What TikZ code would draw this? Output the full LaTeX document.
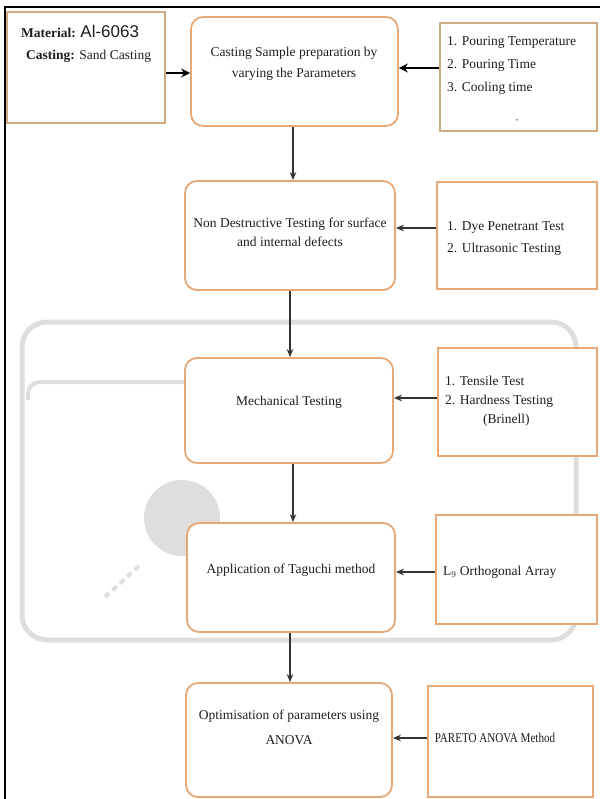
\documentclass[tikz,border=0pt]{standalone}
\usepackage{fontspec}
\setmainfont{Liberation Serif}
\newfontfamily\arialfont{Liberation Sans}
\usepackage{graphicx}
\usetikzlibrary{arrows.meta,calc}
\definecolor{boxor}{RGB}{230,168,118}
\definecolor{boxtan}{RGB}{208,170,132}
\definecolor{wm}{RGB}{222,222,222}
\definecolor{txt}{RGB}{30,30,30}
\begin{document}
\begin{tikzpicture}[x=1pt,y=-1pt,
  rbox/.style={draw=boxor,line width=1.8pt,rounded corners=12pt,fill=white,inner sep=0pt},
  sbox/.style={draw=boxor,line width=1.8pt,fill=white,inner sep=0pt},
  lbl/.style={text=txt,font=\fontsize{13.5}{19}\selectfont,inner sep=0pt},
  thickarrow/.style={draw=black,line width=2.6pt,-{Stealth[length=9pt,width=9pt]}},
  flowarrow/.style={draw=black!80,line width=1.5pt,-{Stealth[length=8pt,width=6.5pt]}}
]
\useasboundingbox (0,0) rectangle (600,799);
% frame (top and left edges)
\draw[line width=2pt] (5,799) -- (5,7) -- (600,7);
% faint watermark
\draw[wm,line width=5pt,rounded corners=25pt] (22,322) rectangle (576,640);
\draw[wm,line width=4pt,rounded corners=12pt] (28,400) -- (28,382) -- (190,382);
\fill[wm] (182,518) circle (38pt);
\draw[wm,line width=4pt,dash pattern=on 6pt off 4pt] (105,597) -- (140,565);
% boxes
\node[sbox,draw=boxtan,minimum width=158pt,minimum height=111pt] (A) at (86,67.5) {};
\node[rbox,minimum width=207pt,minimum height=109pt] (B) at (294.5,71.5) {};
\node[sbox,draw=boxtan,minimum width=157pt,minimum height=108pt] (C) at (518.5,77) {};
\node[rbox,minimum width=210pt,minimum height=109pt] (D) at (290,235.5) {};
\node[sbox,minimum width=160pt,minimum height=107pt] (E) at (517,235.5) {};
\node[rbox,minimum width=208pt,minimum height=105pt] (F) at (289,410.5) {};
\node[sbox,minimum width=159pt,minimum height=108pt] (G) at (517.5,402) {};
\node[rbox,minimum width=208pt,minimum height=109pt] (H) at (291,577.5) {};
\node[sbox,minimum width=161pt,minimum height=109pt] (I) at (516.5,569.5) {};
\node[rbox,minimum width=206pt,minimum height=114pt] (J) at (289,740) {};
\node[sbox,minimum width=165pt,minimum height=111pt] (K) at (510.5,741.5) {};
% texts
\node[lbl,anchor=west] (a1) at (21,31) {\textbf{Material:} {\arialfont\fontsize{17}{19}\selectfont Al-6063}};
\node[lbl,anchor=west] (a2) at (26,56) {\textbf{Casting:} Sand Casting};
\node[lbl,align=center,font=\fontsize{13.5}{21}\selectfont] (bt) at (294,64) {Casting Sample preparation by\\varying the Parameters};
\node[lbl,align=left,anchor=west,font=\fontsize{13.5}{23}\selectfont] (ct) at (447,65) {1. Pouring Temperature\\2. Pouring Time\\3. Cooling time};
\node[lbl,font=\fontsize{9}{10}\selectfont] (cdot) at (517,121) {-};
\node[lbl,align=center] (dt) at (290,232.5) {Non Destructive Testing for surface\\and internal defects};
\node[lbl,align=left,anchor=west,font=\fontsize{13.5}{22}\selectfont] (et) at (447,239) {1. Dye Penetrant Test\\2. Ultrasonic Testing};
\node[lbl] (ft) at (289,402) {Mechanical Testing};
\node[lbl,align=left,anchor=west] (gt) at (445,401) {1. Tensile Test\\2. Hardness Testing\\\hspace*{38pt}(Brinell)};
\node[lbl] (ht) at (291,570) {Application of Taguchi method};
\node[lbl,anchor=west] (it) at (443,572) {L$_9$ Orthogonal Array};
\node[lbl,align=center,font=\fontsize{13.5}{25}\selectfont] (jt) at (289,727.5) {Optimisation of parameters using\\ANOVA};
\node[lbl] (kt) at (495,738) {\scalebox{0.82}[1]{PARETO ANOVA Method}};
% connectors
\coordinate (yab) at (0,73);
\coordinate (ycb) at (0,68);
\coordinate (yed) at (0,228);
\coordinate (ygf) at (0,398);
\coordinate (yih) at (0,572);
\coordinate (ykj) at (0,738);
\coordinate (xa) at (293,0);
\coordinate (xb) at (290,0);
\draw[thickarrow] (A.east |- yab) -- (B.west |- yab);
\draw[thickarrow] (C.west |- ycb) -- (B.east |- ycb);
\draw[flowarrow,line width=2pt] (E.west |- yed) -- (D.east |- yed);
\draw[flowarrow,line width=2pt] (G.west |- ygf) -- (F.east |- ygf);
\draw[flowarrow,line width=2pt] (I.west |- yih) -- (H.east |- yih);
\draw[flowarrow,line width=2pt] (K.west |- ykj) -- (J.east |- ykj);
\draw[flowarrow] (B.south -| xa) -- (D.north -| xa);
\draw[flowarrow] (D.south -| xb) -- (F.north -| xb);
\draw[flowarrow] (F.south -| xa) -- (H.north -| xa);
\draw[flowarrow] (H.south -| xb) -- (J.north -| xb);
\end{tikzpicture}
\end{document}
